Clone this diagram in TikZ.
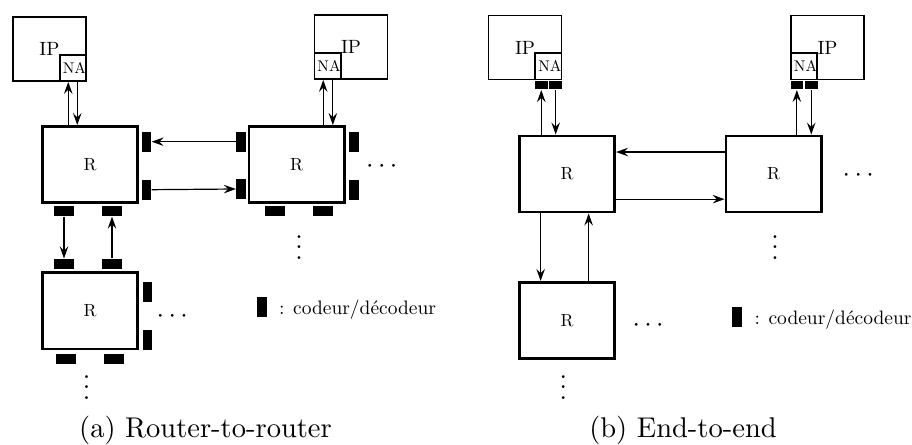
\documentclass[tikz,border=0pt]{standalone}
\usepackage{fontspec}
\usepackage{amsmath,amssymb}
\usetikzlibrary{arrows.meta,positioning,calc}
\newfontfamily\lmten{lmroman10-regular.otf}

\begin{document}
\begin{tikzpicture}[x=0.375pt, y=-0.375pt, >={Stealth[length=4.5pt,width=3.2pt,inset=1.6pt]},
    node distance=25.3pt and 40.7pt,
    router/.style={draw, line width=1pt, minimum width=35.8pt, minimum height=28.6pt, inner sep=0pt, font=\lmten\fontsize{6.6}{8}\selectfont},
    ipbox/.style={draw, line width=0.6pt, minimum width=27.5pt, minimum height=24.1pt, inner sep=0pt, font=\lmten\fontsize{7.2}{8}\selectfont},
    nabox/.style={draw, line width=0.6pt, minimum size=9.9pt, inner sep=0pt, text width=9.8pt, align=right, font=\lmten\fontsize{5.8}{6}\selectfont},
    codv/.style={fill, inner sep=0pt, minimum width=3.6pt, minimum height=7.5pt},
    codh/.style={fill, inner sep=0pt, minimum width=7.5pt, minimum height=3.6pt},
    codna/.style={fill, inner sep=0pt, minimum width=4.7pt, minimum height=3.2pt},
    link/.style={->, line width=0.45pt},
    legend/.style={anchor=base west, inner sep=0pt, font=\lmten\fontsize{7.3}{8}\selectfont},
    caption/.style={font=\fontsize{10.7}{12}\selectfont}]
    \useasboundingbox (0,0) rectangle (912,445);

    % (a) router-to-router
    \node[router] (R1) at (90,164.5) {R};
    \node[router, right=of R1] (R2) {R};
    \node[router, below=of R1] (R3) {R};
    \node[ipbox] (IP1) at (49.5,49) {IP};
    \node[nabox, anchor=south east] (NA1) at (IP1.south east) {NA};
    \node[ipbox] (IP2) at (351,47) {IP};
    \node[nabox, anchor=south west] (NA2) at (IP2.south west) {NA};

    \node[codv] (c1a) at (146.3,141.7) {};
    \node[codv] (c1b) at (146.3,189.7) {};
    \node[codh] (c1c) at (64,211.3) {};
    \node[codh] (c1d) at (112,211.3) {};
    \node[codv] (c2a) at (241.2,141.7) {};
    \node[codv] (c2b) at (241.2,189) {};
    \node[codv] (c2c) at (354.2,141.7) {};
    \node[codv] (c2d) at (354.2,190) {};
    \node[codh] (c2e) at (275,211.3) {};
    \node[codh] (c2f) at (322.7,211.3) {};
    \node[codh] (c3a) at (64,263.8) {};
    \node[codh] (c3b) at (112,263.8) {};
    \node[codv] (c3c) at (147.3,291.7) {};
    \node[codv] (c3d) at (147.3,340) {};
    \node[codh] (c3e) at (66,359.2) {};
    \node[codh] (c3f) at (114.3,359.2) {};

    \coordinate (u1) at ($(NA1.south west)+(9.3,0)$);
    \coordinate (d1) at ($(NA1.south west)+(18.3,0)$);
    \coordinate (u2) at ($(NA2.south west)+(9.7,0)$);
    \coordinate (d2) at ($(NA2.south west)+(19.3,0)$);
    \draw[link] (R1.north -| u1) -- (u1);
    \draw[link] (d1) -- (R1.north -| d1);
    \draw[link] (R2.north -| u2) -- (u2);
    \draw[link] (d2) -- (R2.north -| d2);
    \draw[link] (c2a.west) -- (c1a.east);
    \draw[link] (c1b.east) -- (c2b.west);
    \draw[link] (c1c.south) -- (c3a.north);
    \draw[link] (c3b.north) -- (c1d.south);

    \node[anchor=base, inner sep=0pt] (h2dots) at (384,172.4) {$\cdots$};
    \node[anchor=base, inner sep=0pt] (h3dots) at (174.5,322.7) {$\cdots$};
    \node[anchor=south, inner sep=0pt] (v2dots) at (299,260) {$\vdots$};
    \node[anchor=south, inner sep=0pt] (v3dots) at (86.7,400) {$\vdots$};

    \node[codv] (leg1) at (261.7,307.3) {};
    \node[legend] (legt1) at ($(leg1.south east)+(11.5,-3)$) {: codeur/décodeur};
    \node[caption] (capa) at (205.5,430) {(a) Router-to-router};

    % (b) end-to-end
    \node[router] (R4) at (567,174) {R};
    \node[router, right=of R4] (R5) {R};
    \node[router, below=of R4] (R6) {R};
    \node[ipbox] (IP3) at (525,47.5) {IP};
    \node[nabox, anchor=south east] (NA3) at (IP3.south east) {NA};
    \node[ipbox] (IP4) at (827.5,47.5) {IP};
    \node[nabox, anchor=south west] (NA4) at (IP4.south west) {NA};

    \node[codna, anchor=north west] (k3a) at (NA3.south west) {};
    \node[codna, anchor=north east] (k3b) at (NA3.south east) {};
    \node[codna, anchor=north west] (k4a) at (NA4.south west) {};
    \node[codna, anchor=north east] (k4b) at (NA4.south east) {};

    \draw[link] (R4.north -| k3a) -- (k3a.south);
    \draw[link] (k3b.south) -- (R4.north -| k3b);
    \draw[link] (R5.north -| k4a) -- (k4a.south);
    \draw[link] (k4b.south) -- (R5.north -| k4b);

    \coordinate (h1) at ($(R5.north west)+(0,17.5)$);
    \coordinate (h2) at ($(R4.south east)+(0,-14.3)$);
    \draw[link] (h1) -- (h1 -| R4.east);
    \draw[link] (h2) -- (h2 -| R5.west);
    \coordinate (v1) at ($(R4.south west)+(22.7,0)$);
    \coordinate (v2) at ($(R4.south west)+(70.7,0)$);
    \draw[link] (v1) -- (v1 |- R6.north);
    \draw[link] (v2 |- R6.north) -- (v2);

    \node[anchor=base, inner sep=0pt] (h5dots) at (860.5,181.7) {$\cdots$};
    \node[anchor=base, inner sep=0pt] (h6dots) at (650.3,331) {$\cdots$};
    \node[anchor=south, inner sep=0pt] (v5dots) at (775,260) {$\vdots$};
    \node[anchor=south, inner sep=0pt] (v6dots) at (563.3,400) {$\vdots$};

    \node[codv, minimum width=4.1pt] (leg2) at (737,317) {};
    \node[legend] (legt2) at ($(leg2.south east)+(11,-3)$) {: codeur/décodeur};
    \node[caption] (capb) at (683,430) {(b) End-to-end};
\end{tikzpicture}
\end{document}
